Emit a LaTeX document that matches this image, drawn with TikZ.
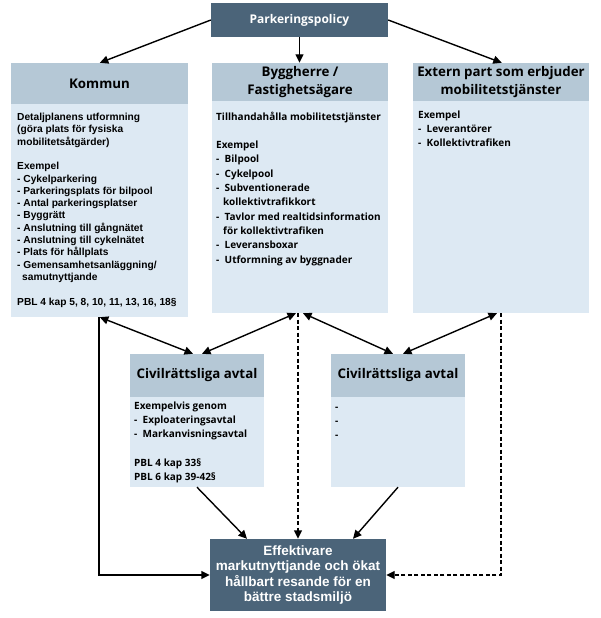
\documentclass[tikz,border=0pt]{standalone}
\usepackage{fontspec}
\setmainfont{Liberation Sans}
\newfontfamily\mgfont{Open Sans}
\newfontfamily\arfont{Liberation Sans}
\usetikzlibrary{arrows.meta,calc}
\definecolor{darkbox}{HTML}{4B6479}
\definecolor{hdrbox}{HTML}{B5C8D6}
\definecolor{bodybox}{HTML}{DDE9F3}
\newcommand\itm{\makebox[8.5pt][l]{-}}
\begin{document}
\begin{tikzpicture}[x=1pt,y=-1pt,
  darknode/.style={fill=darkbox, text=white, inner sep=0pt, align=center},
  hdr/.style={fill=hdrbox, inner sep=0pt, align=center, font=\mgfont\bfseries\fontsize{13.3pt}{18pt}\selectfont},
  bodyn/.style={fill=bodybox, inner sep=0pt},
  txt/.style={anchor=north west, inner sep=0pt, align=left},
  mgtxt/.style={txt, font=\mgfont\bfseries\fontsize{10pt}{14.3pt}\selectfont},
  artxt/.style={txt, font=\arfont\bfseries\fontsize{10.2pt}{12.3pt}\selectfont},
  tip/.tip={Triangle[length=8.5pt,width=8pt]},
  arr/.style={line width=1.4pt, -tip},
  darr/.style={line width=1.4pt, tip-tip},
  dsh/.style={dash pattern=on 4pt off 2.5pt}]
\useasboundingbox (0,0) rectangle (600,618);
\fill[white] (0,0) rectangle (600,618);

% boxes
\node[darknode, minimum width=177pt, minimum height=34pt, font=\mgfont\bfseries\fontsize{12pt}{14pt}\selectfont] (pp) at (299.5,20) {Parkeringspolicy};

\node[hdr, minimum width=177pt, minimum height=41pt] (kh) at (99.5,83.5) {Kommun};
\node[bodyn, minimum width=177pt, minimum height=213pt] (kb) at (99.5,210.5) {};

\node[hdr, minimum width=176pt, minimum height=38pt] (bh) at (300,82) {Byggherre /\\Fastighetsägare};
\node[bodyn, minimum width=176pt, minimum height=212pt] (bb) at (300,207) {};

\node[hdr, minimum width=176pt, minimum height=38pt] (eh) at (501,82) {Extern part som erbjuder\\mobilitetstjänster};
\node[bodyn, minimum width=176pt, minimum height=212pt] (eb) at (501,207) {};

\node[hdr, minimum width=134pt, minimum height=43pt] (c1h) at (197,375.5) {Civilrättsliga avtal};
\node[bodyn, minimum width=134pt, minimum height=90pt] (c1b) at (197,442) {};

\node[hdr, minimum width=134pt, minimum height=43pt] (c2h) at (398,375.5) {Civilrättsliga avtal};
\node[bodyn, minimum width=134pt, minimum height=90pt] (c2b) at (398,442) {};

\node[darknode, minimum width=176pt, minimum height=72pt, font=\arfont\bfseries\fontsize{13.5pt}{15.5pt}\selectfont] (ef) at (298,575) {Effektivare\\markutnyttjande och ökat\\hållbart resande för en\\bättre stadsmiljö};

% body texts
\node[artxt] (kt) at (17,113) {Detaljplanens utformning\\(göra plats för fysiska\\mobilitetsåtgärder)\\~\\Exempel\\- Cykelparkering\\- Parkeringsplats för bilpool\\- Antal parkeringsplatser\\- Byggrätt\\- Anslutning till gångnätet\\- Anslutning till cykelnätet\\- Plats för hållplats\\- Gemensamhetsanläggning/\\\hspace*{5pt}samutnyttjande\\~\\PBL 4 kap 5, 8, 10, 11, 13, 16, 18§};

\node[mgtxt] (bt) at (216,111.5) {Tillhandahålla mobilitetstjänster\\~\\Exempel\\\itm Bilpool\\\itm Cykelpool\\\itm Subventionerade\\\hspace*{7pt}kollektivtrafikkort\\\itm Tavlor med realtidsinformation\\\hspace*{7pt}för kollektivtrafiken\\\itm Leveransboxar\\\itm Utformning av byggnader};

\node[mgtxt] (et) at (418,110.5) {Exempel\\\itm Leverantörer\\\itm Kollektivtrafiken};

\node[mgtxt] (c1t) at (134,401.5) {Exempelvis genom\\\itm Exploateringsavtal\\\itm Markanvisningsavtal\\~\\PBL 4 kap 33§\\PBL 6 kap 39-42§};

\node[mgtxt] (c2t) at (335,402.5) {\vphantom{Xl}-\\-\\-};

% connectors
\draw[arr] (pp.west) -- ([xshift=89pt]kh.north west);
\draw[arr] (pp.south) -- (pp.south |- bh.north);
\draw[arr] (pp.east) -- ([xshift=89pt]eh.north west);

\draw[darr] ([xshift=89pt]kb.south west) -- ([xshift=-4pt]c1h.north);
\draw[darr] ([xshift=-4pt]bb.south) -- ([xshift=5pt]c1h.north);
\draw[darr] ([xshift=3pt]bb.south) -- ([xshift=-5pt]c2h.north);
\draw[darr] ([xshift=-4pt]eb.south) -- ([xshift=5pt]c2h.north);

\draw[arr, dsh] ([xshift=-2pt]bb.south) -- ([xshift=-2pt]bb.south |- ef.north);
\draw[arr, dsh] (eb.south) |- (ef.east);
\draw[arr] ([xshift=88pt]kb.south west) |- (ef.west);

\draw[arr] (c1b.south) -- ([xshift=-51pt]ef.north);
\draw[arr] (c2b.south) -- ([xshift=55pt]ef.north);
\end{tikzpicture}
\end{document}
